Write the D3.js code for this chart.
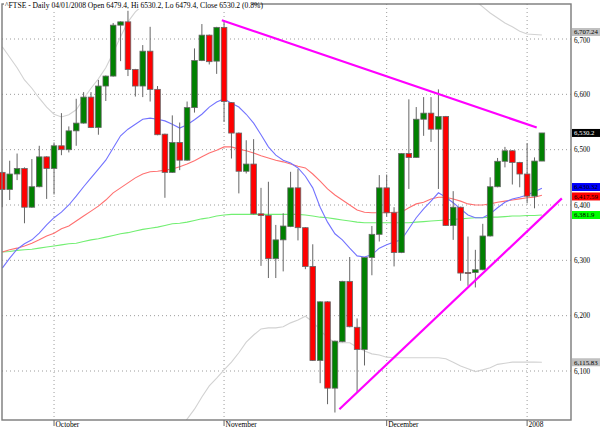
<!DOCTYPE html>
<html><head><meta charset="utf-8">
<script src="https://cdn.jsdelivr.net/npm/d3@7"></script>
<style>
body{margin:0;background:#fff}
svg{display:block}
text{font-family:"Liberation Serif","Times New Roman",serif}
</style>
</head><body>
<svg id="c" width="600" height="428"></svg>
<script>
const title = "^FTSE - Daily 04/01/2008 Open 6479.4, Hi 6530.2, Lo 6479.4, Close 6530.2 (0.8%)";

const dates = [
"2007-09-20","2007-09-21","2007-09-24","2007-09-25","2007-09-26","2007-09-27","2007-09-28",
"2007-10-01","2007-10-02","2007-10-03","2007-10-04","2007-10-05","2007-10-08","2007-10-09","2007-10-10","2007-10-11","2007-10-12",
"2007-10-15","2007-10-16","2007-10-17","2007-10-18","2007-10-19","2007-10-22","2007-10-23","2007-10-24","2007-10-25","2007-10-26",
"2007-10-29","2007-10-30","2007-10-31",
"2007-11-01","2007-11-02","2007-11-05","2007-11-06","2007-11-07","2007-11-08","2007-11-09","2007-11-12","2007-11-13","2007-11-14",
"2007-11-15","2007-11-16","2007-11-19","2007-11-20","2007-11-21","2007-11-22","2007-11-23","2007-11-26","2007-11-27","2007-11-28",
"2007-11-29","2007-11-30",
"2007-12-03","2007-12-04","2007-12-05","2007-12-06","2007-12-07","2007-12-10","2007-12-11","2007-12-12","2007-12-13","2007-12-14",
"2007-12-17","2007-12-18","2007-12-19","2007-12-20","2007-12-21","2007-12-24","2007-12-27","2007-12-28","2007-12-31",
"2008-01-02","2008-01-03","2008-01-04"];

const open  = [6459,6428,6456,6466,6396,6433,6487,6466,6507,6500, 6534,6548,6595,6540,6615,6633,6725,6731,6645,6615,
               6678,6609,6528,6459,6513,6481,6576,6661,6707,6660, 6721,6585,6530,6461,6474,6384,6381,6303,6337,6361,
               6431,6359,6289,6119,6225,6069,6153,6262,6179,6139, 6305,6347,6431,6386,6314,6493,6486,6555,6566,6537,
               6560,6363,6396,6278,6278,6283,6344,6433,6479,6498, 6477,6456,6416,6479.4];
const high  = [6460,6480,6493,6468,6483,6507,6488,6513,6566,6542, 6592,6604,6604,6626,6634,6729,6732,6751,6646,6689,
               6722,6615,6529,6562,6549,6587,6683,6727,6708,6722, 6733,6586,6531,6517,6519,6431,6442,6364,6385,6460,
               6465,6360,6329,6226,6226,6155,6263,6306,6195,6306, 6362,6454,6455,6396,6494,6591,6577,6595,6595,6609,
               6561,6425,6397,6343,6319,6366,6450,6485,6505,6499, 6478,6512,6486,6530.2];
const low   = [6396,6409,6445,6367,6395,6432,6411,6419,6490,6495, 6507,6547,6539,6527,6588,6632,6660,6633,6596,6595,
               6587,6526,6413,6458,6463,6480,6567,6660,6654,6637, 6550,6484,6421,6457,6383,6290,6268,6268,6280,6360,
               6336,6284,6118,6078,6040,6025,6152,6179,6061,6110, 6273,6334,6379,6289,6313,6429,6485,6525,6514,6429,
               6362,6337,6263,6254,6251,6282,6343,6432,6468,6437, 6432,6403,6394,6479.4];
const close = [6428,6456,6466,6396,6433,6487,6466,6507,6500,6534, 6548,6595,6540,6615,6633,6725,6731,6645,6615,6678,
               6609,6527,6459,6513,6481,6576,6661,6707,6659,6721, 6587,6530,6461,6474,6384,6381,6303,6337,6362,6431,
               6359,6289,6119,6225,6069,6154,6262,6180,6139,6305, 6347,6431,6386,6314,6493,6486,6555,6566,6537,6560,
               6363,6396,6277,6277,6283,6344,6433,6479,6498,6477, 6456,6416,6479.4,6530.2];

const maBlue  = [6286,6304,6320,6330,6337,6349,6364,6377,6387,6400, 6416,6433,6449,6465,6481,6503,6525,6537,6546,6555,
                 6557,6555,6552,6546,6539,6545,6554,6564,6577,6586, 6592,6584,6577,6564,6548,6527,6505,6490,6481,6476,
                 6467,6452,6431,6396,6369,6348,6337,6322,6308,6306, 6310,6322,6328,6333,6337,6357,6377,6393,6407,6422,
                 6414,6404,6393,6382,6377,6377,6384,6395,6405,6411, 6414,6418,6424,6430.32];
const maRed   = [6315,6319,6322,6326,6331,6337,6344,6349,6357,6362, 6371,6380,6389,6398,6409,6422,6431,6440,6449,6456,
                 6460,6461,6463,6465,6469,6474,6480,6487,6494,6499, 6505,6505,6501,6498,6494,6489,6485,6481,6478,6474,
                 6470,6467,6456,6443,6429,6418,6409,6400,6391,6387, 6386,6386,6386,6387,6387,6395,6402,6405,6411,6414,
                 6414,6411,6407,6402,6400,6400,6402,6405,6407,6409, 6411,6413,6414,6417.59];
const maGreen = [6315,6316,6318,6319,6320,6322,6324,6326,6328,6330, 6331,6334,6337,6339,6342,6345,6348,6350,6353,6356,
                 6358,6360,6363,6366,6367,6369,6372,6375,6377,6380, 6382,6383,6383,6383,6383,6383,6383,6383,6383,6383,
                 6383,6382,6380,6378,6377,6375,6373,6371,6369,6368, 6368,6368,6368,6368,6368,6368,6369,6370,6371,6372,
                 6373,6374,6375,6376,6377,6377,6378,6378,6379,6380, 6380,6381,6381,6381.9];
const bandUpper = [6686,6667,6648,6626,6611,6593,6577,6564,6559,6563, 6572,6592,6611,6628,6648,6675,6704,6731,6749,6761,
                   6770,6780,6790,6795,6798,6800,6805,6815,6830,6840, 6850,6855,6855,6855,6850,6845,6840,6830,6820,6815,
                   6810,6800,6795,6800,6810,6815,6820,6825,6830,6830, 6830,6825,6820,6815,6810,6805,6800,6800,6800,6800,
                   6805,6810,6805,6790,6769,6758,6747,6738,6729,6722, 6714,6709,6708,6707.24];
const bandLower = [5885,5900,5910,5920,5925,5920,5910,5900,5895,5895, 5900,5900,5905,5905,5910,5905,5900,5905,5920,5935,
                   5950,5965,5975,5985,5995,6013,6031,6053,6073,6087, 6102,6116,6133,6152,6165,6176,6178,6178,6180,6187,
                   6192,6199,6189,6174,6160,6151,6151,6151,6143,6136, 6131,6129,6125,6124,6124,6124,6124,6124,6124,6124,
                   6122,6116,6109,6104,6099,6102,6106,6112,6114,6116, 6116,6116,6116,6115.83];

// trend lines: [trading-day index, price]
const trendHigh = [[29.7, 6734], [72.3, 6540]];
const trendLow  = [[45.6, 6031], [75.7, 6412]];

const priceTicks = [6100, 6200, 6300, 6400, 6500, 6600, 6700];
const monthStarts = ["2007-10-01", "2007-11-01", "2007-12-03", "2008-01-02"];
const monthNames  = ["October", "November", "December", "2008"];

// ---------- drawing ----------
const svg = d3.select("#c");
const P = {l: 2, t: 4, r: 571, b: 420};
const n = dates.length;
const x = d3.scaleLinear().domain([0, n - 1]).range([2.3, 541.9]);
const y = d3.scaleLinear().domain([6100, 6700]).range([371, 39]);
const fmt = d3.format(",");

svg.append("defs").append("clipPath").attr("id", "clip")
  .append("rect").attr("x", P.l).attr("y", P.t).attr("width", P.r - P.l).attr("height", P.b - P.t);

// gridlines
const grid = svg.append("g");
grid.selectAll("line.h").data(priceTicks).join("line")
  .attr("x1", P.l).attr("x2", P.r).attr("y1", d => y(d)).attr("y2", d => y(d))
  .attr("stroke", "#9c9c9c").attr("stroke-width", 1).attr("stroke-dasharray", "1,3");
const monthIdx = monthStarts.map(d => dates.indexOf(d));
grid.selectAll("line.v").data(monthIdx).join("line")
  .attr("x1", d => x(d)).attr("x2", d => x(d)).attr("y1", P.t).attr("y2", P.b)
  .attr("stroke", "#9c9c9c").attr("stroke-width", 1).attr("stroke-dasharray", "1,3");

// indicator lines
const lineG = svg.append("g").attr("clip-path", "url(#clip)");
const ln = d3.line().x((d, i) => x(i)).y(d => y(d));
[[bandUpper, "#d2d2d2"], [bandLower, "#d2d2d2"], [maGreen, "#72ef72"], [maRed, "#ff7070"], [maBlue, "#7373ff"]]
  .forEach(([s, c]) => lineG.append("path").attr("d", ln(s)).attr("fill", "none").attr("stroke", c).attr("stroke-width", 1.1));

// candles
const idx = d3.range(n);
const cg = svg.append("g");
cg.selectAll("line.w").data(idx).join("line")
  .attr("x1", i => x(i)).attr("x2", i => x(i))
  .attr("y1", i => y(high[i])).attr("y2", i => y(low[i]))
  .attr("stroke", "#666").attr("stroke-width", 1);
const bw = 5.6;
cg.selectAll("rect.b").data(idx).join("rect")
  .attr("x", i => x(i) - bw / 2).attr("width", bw)
  .attr("y", i => y(Math.max(open[i], close[i])))
  .attr("height", i => Math.max(1, Math.abs(y(open[i]) - y(close[i]))))
  .attr("fill", i => close[i] >= open[i] ? "#008000" : "#ff0000")
  .attr("stroke", "#666").attr("stroke-width", 0.8);

// trend lines
const tl = d3.line().x(d => x(d[0])).y(d => y(d[1]));
const tg = svg.append("g").attr("clip-path", "url(#clip)");
[trendHigh, trendLow].forEach(t => tg.append("path").attr("d", tl(t))
  .attr("fill", "none").attr("stroke", "#ff00ff").attr("stroke-width", 2.2));

// frame
svg.append("rect").attr("x", P.l).attr("y", P.t).attr("width", P.r - P.l).attr("height", P.b - P.t)
  .attr("fill", "none").attr("stroke", "#7a7a7a").attr("stroke-width", 1.4);

// title
svg.append("rect").attr("x", 4).attr("y", 0).attr("width", 248).attr("height", 9).attr("fill", "#fff");
svg.append("text").attr("x", 5).attr("y", 8).attr("font-size", 7.6).attr("fill", "#000").text(title);

// right price axis
const ax = svg.append("g");
ax.selectAll("text").data(priceTicks).join("text")
  .attr("x", 574).attr("y", d => y(d) + (d === 6700 ? 4 : 2.6))
  .attr("font-size", 7.2).attr("fill", "#000").text(d => fmt(d));

// bottom month axis
const bx = svg.append("g");
bx.selectAll("line").data(monthIdx).join("line")
  .attr("x1", d => x(d)).attr("x2", d => x(d)).attr("y1", P.b).attr("y2", P.b + 6)
  .attr("stroke", "#666");
bx.selectAll("text").data(monthIdx).join("text")
  .attr("x", d => x(d) + 1.5).attr("y", 426.5).attr("font-size", 7.4).attr("fill", "#000")
  .text((d, i) => monthNames[i]);

// value labels on right (with small offsets so neighbours do not collide)
const last = a => a[a.length - 1];
const tags = [
  [last(bandUpper), "#c0c0c0", "#000", -3],
  [last(close), "#000000", "#fff", 0],
  [last(maBlue), "#0000ff", "#000", -1.2],
  [last(maRed), "#ff0000", "#000", 1.2],
  [last(maGreen), "#00ff00", "#000", 0],
  [last(bandLower), "#c0c0c0", "#000", 0]
];
const lg = svg.append("g");
tags.forEach(([v, bg, fg, off]) => {
  const cy = y(v) + off;
  lg.append("rect").attr("x", 572).attr("y", cy - 4).attr("width", 28).attr("height", 8).attr("fill", bg);
  lg.append("text").attr("x", 574).attr("y", cy + 2.4).attr("font-size", 6.8).attr("fill", fg).text(fmt(v));
});
</script>
</body></html>
